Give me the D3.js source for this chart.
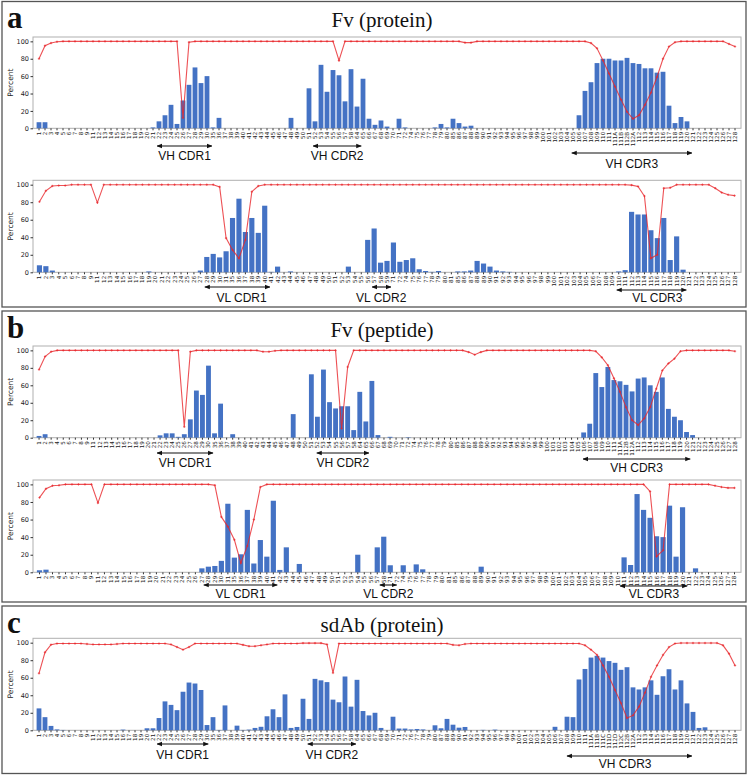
<!DOCTYPE html>
<html><head><meta charset="utf-8">
<script src="https://cdn.jsdelivr.net/npm/d3@7"></script>
<style>body{margin:0;background:#fff}svg{display:block}</style>
</head><body>
<script>
// ---------- tick labels (residue numbering) ----------
const vhLabels = "1 2 3 4 5 6 7 8 9 11 12 13 14 15 16 17 18 19 20 21 22 23 24 25 26 27 28 29 30 35 36 37 38 39 40 41 42 43 44 45 46 47 48 49 50 51 52 53 54 55 56 57 58 64 65 66 67 68 69 70 71 72 74 75 76 77 78 79 80 85 86 87 88 89 90 91 92 93 94 95 96 97 98 99 100 101 102 103 104 105 106 107 108 109 110 111 111A 111B 112B 112A 112 113 114 115 116 117 118 119 120 121 122 123 124 125 126 127 128".split(" ");
const vhLabelsPep = "1 2 3 4 5 6 7 8 9 11 12 13 14 15 16 17 18 19 20 21 22 23 24 25 26 27 28 29 30 35 36 37 38 39 40 41 42 43 44 45 46 47 48 49 50 51 52 53 54 55 56 57 58 64 65 66 67 68 69 70 71 72 74 75 76 77 78 79 80 85 86 87 88 89 90 91 92 93 94 95 96 97 98 99 100 101 102 103 104 105 106 107 108 109 110 111 111A 112B 112A 112 113 114 115 116 117 118 119 120 121 122 123 124 125 126 127 128".split(" ");
const vhLabelsSd = "1 2 3 4 5 6 7 8 9 11 12 13 14 15 16 17 18 19 20 21 22 23 24 25 26 27 28 29 30 35 36 37 38 39 40 41 42 43 44 45 46 47 48 49 50 51 52 53 54 55 56 57 58 64 65 66 67 68 69 70 71 72 76 77 78 79 80 87 88 89 90 91 92 93 94 95 96 97 98 99 100 101 102 103 104 105 106 107 108 109 110 111 111A 111B 111C 111D 112D 112C 112B 112A 112 113 114 115 116 117 118 119 120 121 122 123 124 125 126 127 128".split(" ");
const vlLabels = "1 2 3 4 5 6 7 8 9 11 12 13 14 15 16 17 18 19 20 21 22 23 24 25 26 27 28 29 30 31 35 36 37 38 39 40 41 42 43 44 45 46 47 48 49 50 51 52 53 54 55 56 57 58 59 71 72 74 75 76 77 78 79 80 81 85 86 87 88 89 90 91 92 93 94 95 96 97 98 99 100 101 102 103 104 105 106 107 108 109 110 111 112 113 114 115 116 117 118 119 120 121 122 123 124 125 126 127 128".split(" ");
const vlLabelsPep = "1 2 3 4 5 6 7 8 9 11 12 13 14 15 16 17 18 19 20 21 22 23 24 25 26 27 28 29 30 31 35 36 37 38 39 40 41 42 43 44 45 46 47 48 49 50 51 52 53 54 55 56 57 58 71 72 74 75 76 77 78 79 80 81 85 86 87 88 89 90 91 92 93 94 95 96 97 98 99 100 101 102 103 104 105 106 107 108 109 110 111 112 113 114 115 116 117 118 119 120 121 122 123 124 125 126 127 128".split(" ");

// ---------- a: Fv (protein) ----------
const aHeavyBars = [
7,7,0,0,0,0,0,0,0,0,
0,0,0,0,0,0,0,0,0,1,
8,15,27,5,32,50,70,52,60,1,
12,0,0,0,0,0,0,0,0,0,
0,0,12,0,0,46,8,73,42,67,
61,31,68,25,57,11,4,9,2,0,
11,1,0,0,0,0,1,5,1,11,
6,2,3,0,0,0,0,0,0,0,
0,0,0,0,0,0,0,0,0,0,
15,43,53,75,80,80,78,78,81,75,
74,69,69,64,65,26,6,13,8,0,
0,0,0,0,0,0,0];
const aHeavyLine = [
80,95,98,99.5,100,100,100,100,100,100,
100,100,100,100,100,100,100,100,100,100,
100,100,100,100,12,99,100,100,100,100,
100,100,100,100,100,100,100,100,100,100,
100,100,100,100,100,100,100,100,100,100,
78,100,100,100,100,100,100,100,100,100,
100,100,100,100,100,100,100,100,100,100,
100,98.5,98.5,100,100,100,100,100,100,100,
100,100,100,100,100,100,100,100,100,100,
100,100,98,92,78,63,48,33,19,11,
15,27,41,59,80,94,99,100,100,100,
100,100,100,100,100,97,94];
const aLightBars = [
8,7,2,0,0,0,0,0,0,0,
0,0,0,0,0,0,0,1,0,0,
0,0,0,0,0,2,17.5,21,17,24,
62,84,46,62,45,76,0.5,6.5,0,1,
0,0,0,0,0,0,0,0,6.5,0,
0,37,50,11,13,34,12,14,16,3.5,
1.5,0.5,1.5,0,0,1,1,2,13,10,
6.5,2,1,0.5,0,0,0,0,0,0,
0,0,0,0,0,0,0,0,0,0,
1,2.5,69,66,66,48,39,62,14,41,
3,0,0,0,0,0,0,0,0];
const aLightLine = [
80.5,93,98.5,99,99,100,100,100,100,79.5,
100,100,100,100,100,100,100,100,100,100,
100,100,100,100,100,100,100,100,97.5,39,
25.5,16,37,92,98.5,100,100,100,100,100,
100,100,100,100,100,100,100,100,100,100,
100,100,100,100,100,100,100,100,100,100,
100,100,100,100,100,100,100,100,100,100,
100,100,100,100,100,100,100,100,100,100,
100,100,100,100,100,100,100,100,100,100,
100,100,99.5,98,87,16,20,96,96.5,100,
100,100,100,100,100,96,91,88.5,87.5];

// ---------- b: Fv (peptide) ----------
const bHeavyBars = [
2,4,0,0,0,0,0,0,0,0,
0,0,0,0,0,0,0,0,0,0,
2.7,5,5,1,4,21,54,49,82.5,5,
39,0,4,0,0,0,0,0,0,0,
0,0,27,0,0,72.6,24,78,40.7,33.5,
36,36,8.7,52.5,18.6,65,3,0,1,0,
0,0.5,0,0,0,0,0,0,0,0,
0,0,0,0,0,0,0,0,0,0,
0,0,0,0,0,0,0,0,0,0,
6,16,74,58,81,66,64.6,60.5,53,67.7,
69,60,52.5,69,33,24,20,6.5,3,0,
0,0,0,0,0,0];
const bHeavyLine = [
78,93,98.5,100,100,100,100,100,100,100,
100,100,100,100,100,100,100,100,100,100,
100,100,100,100,12.5,98.5,100,100,100,100,
100,100,100,100,100,100,100,98.5,98.5,99.5,
100,100,100,100,100,100,100,100,100,100,
10.6,81,100,100,100,100,100,100,100,100,
100,100,100,100,100,100,100,100,100,100,
100,98,95,98,100,100,100,100,100,100,
100,100,100,100,100,100,100,100,100,100,
100,100,99,92,83,68,52.5,35,20,14.5,
22,35,56,77,85,90.5,99,100,100,100,
100,100,100,100,100,99];
const bLightBars = [
2.3,3,0,0,0,0,0,0,0,0,
0,0,0,0,0,0,0,0,0,0,
0,0,0,0,0,4.5,6.4,7.2,13,78,
16.7,20.5,71,10,36.7,17.8,81.4,2.7,28.4,0,
9.5,0,0,0,0,0,0,0,0,20,
0,0,28.4,40.5,8,0,8,0,9,3.4,
0,0,0,0,0,0,0,0,6.4,0,
0,0,0,0,0,0,0,0,0,0,
0,0,0,0,0,0,0,0,0,0,
17,8.3,89,71,62,41,40,75.8,17.8,74,
0,4.5,0,0,0,0,0,0];
const bLightLine = [
85,95,98.5,99,100,100,100,100,100,79,
100,100,100,100,100,100,100,100,100,100,
100,100,100,100,100,100,100,99,63,52,
37,10.6,30,60,97,100,100,100,100,100,
100,100,100,100,100,100,100,100,100,100,
100,100,100,100,100,100,100,100,100,100,
100,100,100,100,100,100,100,100,100,100,
100,100,100,100,100,100,100,100,100,100,
100,100,100,100,100,100,100,100,100,100,
100,100,100,100,92,18,25,100,100,100,
100,100,100,100,98.5,97,96,96];

// ---------- c: sdAb (protein) ----------
const cHeavyBars = [
25,15,5,1,0.4,0,0,0,0,0,
0,0,0,0,0.8,0,0,0,2.3,2.3,
14,33,29,23,44,54.5,53.4,46,6,15,
0.4,28.4,0,5.3,0.4,0.8,2.7,4,16,24,
15,41,2.7,3.8,36,13,58.7,57,55,35,
32,61.4,27,57.6,22,17,20,2.7,0,15.5,
2,2,1,1.5,1,0,5.7,2.3,13,6.4,
3,3.8,0,0,0.5,0,0.8,0,0,0,
0,0,0,0,0,0,4,0,15.5,15,
58,70,83,85,83,79,77,69,72,49,
46.6,49,57,40.5,61.7,69.7,46.6,57,30.7,21,
2.7,3.4,0,0,0,0,0];
const cHeavyLine = [
65,89,97.7,99,99,99,99,99,98.5,98,
98,98,98,98.5,99,99,99,99,99,99,
99,99,98,95,92,95,99,99,99,99,
99,99,99,99,97.5,96,96,97,98,99,
99,99,99,99,99.5,99.5,99.5,99.5,98,65.5,
99,99,99,99,99,99,99,99,99,99,
99,99,99,99,99,99,99,99,99,97.5,
97,98.5,99,99,99,99,99,99,99,99,
99,99,99,99,99,99,99,99,99,99,
99,97,92,86,74,61,46,31,14,17,
27,43,61,74,86,95,99,99.6,99.6,99.6,
99.6,99.6,99.6,99.6,97,87.5,74];

const yTicks = [0,20,40,60,80,100];

// ---------- layout ----------
const W = 748, H = 775, X0 = 33, X1 = 741;
const svg = d3.select("body").append("svg").attr("width", W).attr("height", H)
  .style("font-family", "'Liberation Sans', Arial, sans-serif");

const boxes = [
  {y0: 1.5, y1: 307, letter: "a", title: "Fv (protein)", titleY: 27, letterY: 28},
  {y0: 311, y1: 602, letter: "b", title: "Fv (peptide)", titleY: 337, letterY: 338},
  {y0: 606, y1: 773.5, letter: "c", title: "sdAb (protein)", titleY: 632, letterY: 633}
];
boxes.forEach(b => {
  svg.append("rect").attr("x", 2).attr("y", b.y0).attr("width", W - 4).attr("height", b.y1 - b.y0)
    .attr("fill", "none").attr("stroke", "#555").attr("stroke-width", 1.3);
  svg.append("text").attr("x", 7).attr("y", b.letterY).text(b.letter)
    .style("font-family", "'Liberation Serif', 'Times New Roman', serif").style("font-weight", "bold")
    .style("font-size", "31px").attr("fill", "#111");
  svg.append("text").attr("x", 382).attr("y", b.titleY).attr("text-anchor", "middle").text(b.title)
    .style("font-family", "'Liberation Serif', 'Times New Roman', serif").style("font-size", "21px").attr("fill", "#111");
});

const panels = [
  {labels: vhLabels, bars: aHeavyBars, line: aHeavyLine, top: 37, bottom: 128.3,
   cdr: [{t: "VH CDR1", a: 19.7, b: 28.8, ay: 146, ty: 160},
         {t: "VH CDR2", a: 45.7, b: 53.7, ay: 146, ty: 160},
         {t: "VH CDR3", a: 88.8, b: 108.8, ay: 153, ty: 168}]},
  {labels: vlLabels, bars: aLightBars, line: aLightLine, top: 180.3, bottom: 272.3,
   cdr: [{t: "VL CDR1", a: 25.7, b: 35.8, ay: 287, ty: 302, tc: 31.4},
         {t: "VL CDR2", a: 51.7, b: 54.6, ay: 287, ty: 302, tc: 53.1},
         {t: "VL CDR3", a: 89.7, b: 100.5, ay: 290, ty: 302, tc: 96}]},
  {labels: vhLabelsPep, bars: bHeavyBars, line: bHeavyLine, top: 346, bottom: 437.7,
   cdr: [{t: "VH CDR1", a: 19.5, b: 28.75, ay: 453, ty: 467},
         {t: "VH CDR2", a: 45.9, b: 54.5, ay: 453, ty: 467},
         {t: "VH CDR3", a: 89.9, b: 107.6, ay: 459, ty: 472}]},
  {labels: vlLabelsPep, bars: bLightBars, line: bLightLine, top: 480, bottom: 572.3,
   cdr: [{t: "VL CDR1", a: 25.3, b: 36.6, ay: 585, ty: 598},
         {t: "VL CDR2", a: 52.4, b: 55.0, ay: 585, ty: 598, tc: 53.7},
         {t: "VL CDR3", a: 89.4, b: 99.7, ay: 586, ty: 598, tc: 94.6}]},
  {labels: vhLabelsSd, bars: cHeavyBars, line: cHeavyLine, top: 638.3, bottom: 730.3,
   cdr: [{t: "VH CDR1", a: 19.7, b: 28.2, ay: 744, ty: 759},
         {t: "VH CDR2", a: 44.8, b: 52.8, ay: 744, ty: 759},
         {t: "VH CDR3", a: 88, b: 108.8, ay: 756, ty: 768, tc: 97.7}]}
];

const defs = svg.append("defs");
defs.append("marker").attr("id", "ah").attr("viewBox", "0 0 10 10").attr("refX", 9).attr("refY", 5)
  .attr("markerWidth", 5).attr("markerHeight", 5).attr("orient", "auto-start-reverse")
  .append("path").attr("d", "M0,1 L10,5 L0,9 z").attr("fill", "#111");

panels.forEach(p => {
  const x = d3.scaleBand().domain(p.labels).range([X0, X1]).paddingInner(0.2).paddingOuter(0.6);
  const y = d3.scaleLinear().domain([0, 105]).range([p.bottom, p.top]);
  const cx = i => x(p.labels[i]) + x.bandwidth() / 2;
  const fx = f => { const i = Math.floor(f); return cx(i) + (f - i) * x.step(); };
  const g = svg.append("g");

  g.append("rect").attr("x", X0).attr("y", p.top).attr("width", X1 - X0).attr("height", p.bottom - p.top)
    .attr("fill", "none").attr("stroke", "#b0b0b0").attr("stroke-width", 1);

  g.selectAll("rect.bar").data(p.bars).join("rect").attr("class", "bar")
    .attr("x", (d, i) => x(p.labels[i])).attr("width", x.bandwidth())
    .attr("y", d => y(d)).attr("height", d => p.bottom - y(d))
    .attr("fill", "#4472c4");

  const line = d3.line().x((d, i) => cx(i)).y(d => y(d));
  g.append("path").datum(p.line).attr("d", line).attr("fill", "none")
    .attr("stroke", "#e8262a").attr("stroke-width", 1.1).attr("stroke-opacity", 0.8);
  g.selectAll("path.mk").data(p.line).join("path").attr("class", "mk")
    .attr("d", (d, i) => `M${cx(i) - 1.2},${y(d)}h2.4M${cx(i)},${y(d) - 1.2}v2.4`)
    .attr("stroke", "#e8262a").attr("stroke-width", 0.8).attr("stroke-opacity", 0.8);

  const ya = g.append("g").attr("transform", `translate(${X0},0)`)
    .call(d3.axisLeft(y).tickValues(yTicks).tickSize(2.5).tickPadding(1.5));
  ya.select(".domain").remove();
  ya.selectAll("line").attr("stroke", "#333");
  ya.selectAll("text").style("font-family", "'DejaVu Sans', sans-serif").style("font-size", "6.5px").attr("fill", "#222");

  const xa = g.append("g").attr("transform", `translate(0,${p.bottom})`)
    .call(d3.axisBottom(x).tickSize(2).tickPadding(1));
  xa.select(".domain").remove();
  xa.selectAll("line").attr("stroke", "#333");
  xa.selectAll("text").style("font-family", "'DejaVu Sans', sans-serif").style("font-size", "5.6px").attr("fill", "#222")
    .attr("transform", "rotate(-90)").attr("text-anchor", "end").attr("dy", "0.35em").attr("x", -3.5).attr("y", 0);

  g.append("text").attr("transform", `translate(13,${(p.top + p.bottom) / 2}) rotate(-90)`)
    .attr("text-anchor", "middle").text("Percent")
    .style("font-family", "'DejaVu Sans', sans-serif").style("font-size", "7.5px").attr("fill", "#222");

  p.cdr.forEach(c => {
    g.append("line").attr("x1", fx(c.a)).attr("x2", fx(c.b)).attr("y1", c.ay).attr("y2", c.ay)
      .attr("stroke", "#111").attr("stroke-width", 1.1)
      .attr("marker-start", "url(#ah)").attr("marker-end", "url(#ah)");
    const tcx = c.tc !== undefined ? fx(c.tc) : (fx(c.a) + fx(c.b)) / 2;
    g.append("text").attr("x", tcx).attr("y", c.ty).attr("text-anchor", "middle").text(c.t)
      .style("font-size", "12px").attr("fill", "#111");
  });
});
</script>
</body></html>
